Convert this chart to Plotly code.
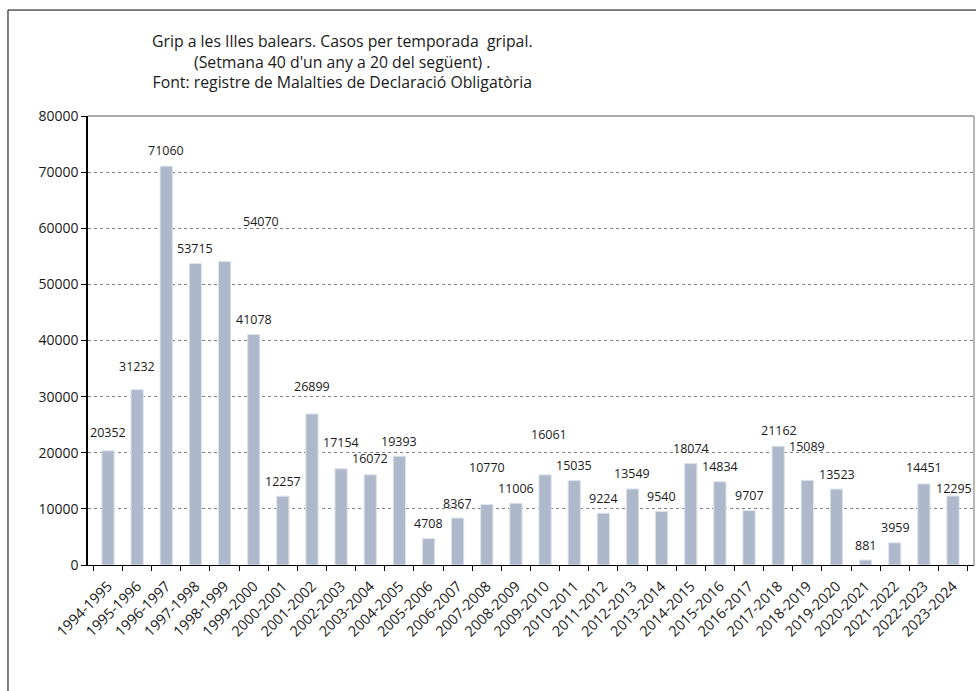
import plotly.graph_objects as go

seasons = ["1994-1995", "1995-1996", "1996-1997", "1997-1998", "1998-1999", "1999-2000",
           "2000-2001", "2001-2002", "2002-2003", "2003-2004", "2004-2005", "2005-2006",
           "2006-2007", "2007-2008", "2008-2009", "2009-2010", "2010-2011", "2011-2012",
           "2012-2013", "2013-2014", "2014-2015", "2015-2016", "2016-2017", "2017-2018",
           "2018-2019", "2019-2020", "2020-2021", "2021-2022", "2022-2023", "2023-2024"]
cases = [20352, 31232, 71060, 53715, 54070, 41078, 12257, 26899, 17154, 16072,
         19393, 4708, 8367, 10770, 11006, 16061, 15035, 9224, 13549, 9540,
         18074, 14834, 9707, 21162, 15089, 13523, 881, 3959, 14451, 12295]

# label pixel offsets (styling, as in the original chart's label layout)
label_dy = [18, 23, 16, 15, 40, 15, 15, 28, 26, 16, 15, 15, 15, 37, 15,
            40, 15, 15, 15, 15, 15, 15, 15, 16, 34, 15, 15, 15, 16, 7]
label_dx = [0, 0, 0, 0, 36, 0, 0, 0, 0, 0, 0, 0, 0, 0, 0,
            4, 0, 0, 0, 0, 0, 0, 0, 1, 0, 1, 0, 1, 0, 1]

title_lines = ["Grip a les Illes balears. Casos per temporada  gripal.",
               "(Setmana 40 d'un any a 20 del següent) .",
               "Font: registre de Malalties de Declaració Obligatòria"]

FONT = "Open Sans"

fig = go.Figure()
fig.add_trace(go.Bar(
    x=seasons, y=cases,
    marker=dict(color="#adb9ca", line=dict(color="#dde3ea", width=1)),
    hoverinfo="x+y",
))

annotations = []
for s, v, dx, dy in zip(seasons, cases, label_dx, label_dy):
    annotations.append(dict(
        x=s, y=v, xref="x", yref="y", text=str(v), showarrow=False,
        xanchor="center", yanchor="middle", xshift=dx, yshift=dy,
        font=dict(family=FONT, size=12.5, color="#1a1a1a"),
    ))

annotations.append(dict(
    x=0.2867, y=1.0, xref="paper", yref="paper",
    xanchor="center", yanchor="middle", yshift=55,
    text="<br>".join(title_lines), showarrow=False, align="center",
    font=dict(family=FONT, size=15.8, color="#1a1a1a"),
))

shapes = [
    # outer chart frame
    dict(type="rect", xref="paper", yref="paper", x0=-0.0903, x1=1.05, y0=-0.32, y1=1.236,
         line=dict(color="black", width=1), fillcolor="rgba(0,0,0,0)", layer="below"),
    # top border of plot area
    dict(type="line", xref="paper", yref="paper", x0=0, x1=1, y0=1, y1=1,
         line=dict(color="#8c8c8c", width=1.5)),
    # right border of plot area
    dict(type="line", xref="paper", yref="paper", x0=1, x1=1, y0=0, y1=1,
         line=dict(color="#a0a0a0", width=1.5)),
]

fig.update_layout(
    width=976, height=691,
    margin=dict(l=88, r=2, t=116, b=126),
    paper_bgcolor="white", plot_bgcolor="white",
    showlegend=False,
    bargap=0.58,
    annotations=annotations,
    shapes=shapes,
    font=dict(family=FONT, color="#1a1a1a"),
    xaxis=dict(
        type="category", tickangle=-45, tickson="boundaries",
        ticks="outside", ticklen=5, tickcolor="black",
        ticklabelstandoff=6,
        showline=True, linecolor="black", linewidth=1,
        showgrid=False,
        tickfont=dict(family=FONT, size=14.5, color="#1a1a1a"),
    ),
    yaxis=dict(
        range=[0, 80000], dtick=10000, tick0=0, tickformat="d",
        ticks="outside", ticklen=5, tickcolor="black",
        showline=True, linecolor="black", linewidth=1.5,
        showgrid=True, gridcolor="#808080", gridwidth=1, griddash="dot",
        zeroline=False,
        tickfont=dict(family=FONT, size=14, color="#1a1a1a"),
    ),
)

fig.write_html("out.html",
               config={"displayModeBar": False},
               post_script="document.body.style.margin='0px';document.body.style.overflow='hidden';")
